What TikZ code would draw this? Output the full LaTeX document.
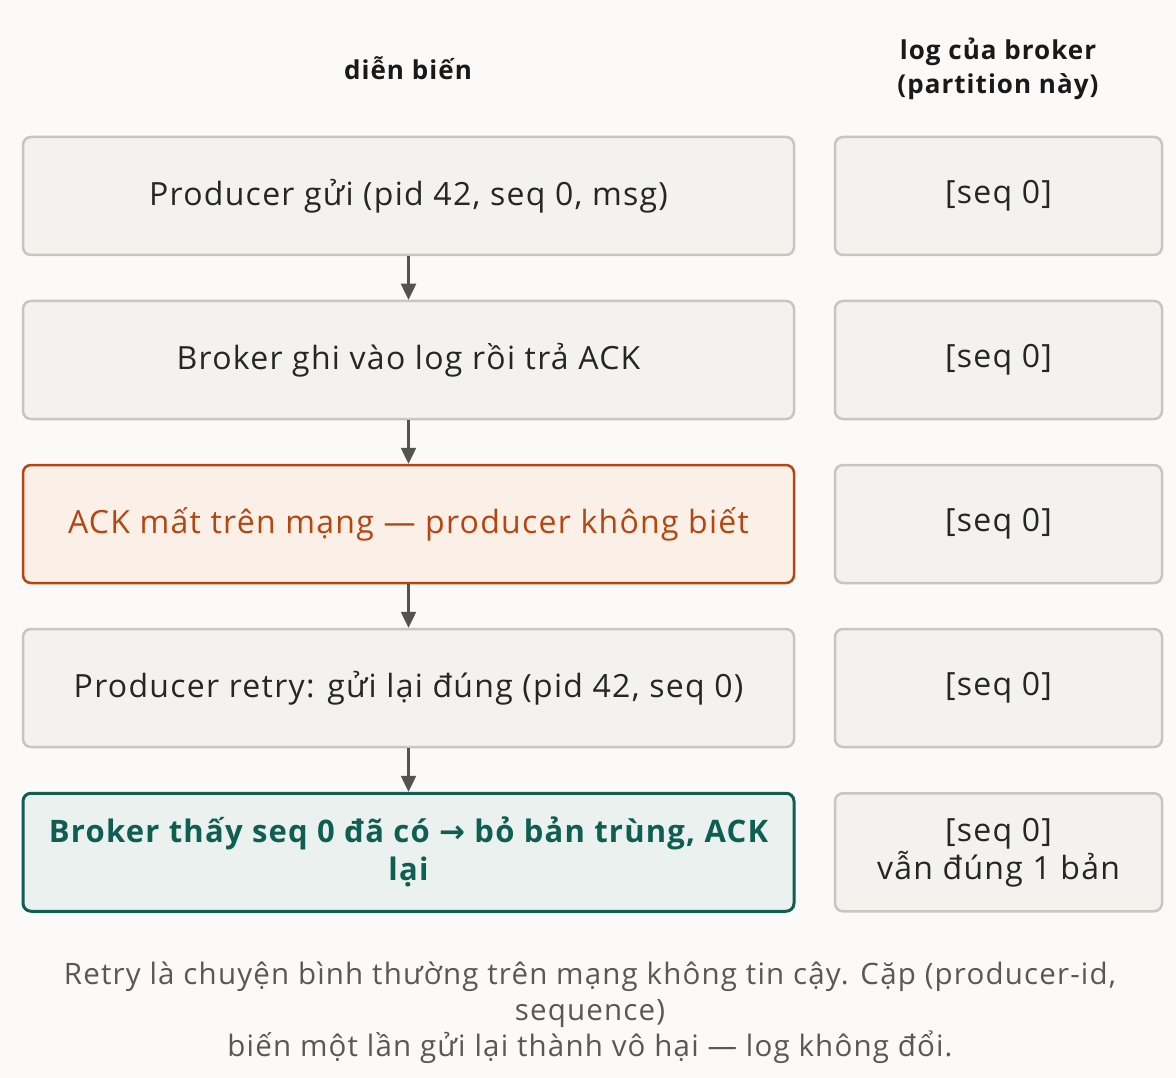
\documentclass[tikz,border=0pt]{standalone}
\usepackage{fontspec}
\setmainfont{Open Sans}[LetterSpace=4]
\newfontfamily\symfont{DejaVu Sans}
\usetikzlibrary{positioning}
\usetikzlibrary{arrows.meta}

\definecolor{bg}{HTML}{FBFAF8}
\definecolor{boxfill}{HTML}{F3F2EF}
\definecolor{boxline}{HTML}{C9C6BF}
\definecolor{warnfill}{HTML}{FAF0E8}
\definecolor{warnline}{HTML}{B5460F}
\definecolor{okfill}{HTML}{EAF1EE}
\definecolor{okline}{HTML}{0F5E52}
\definecolor{arrowc}{HTML}{55534E}
\definecolor{notec}{HTML}{5A5853}

\tikzset{
  evt/.style={draw=boxline,fill=boxfill,line width=2.5pt,rounded corners=8pt,
    minimum width=771pt,minimum height=118pt,align=center,inner sep=0pt,
    text=black!85,font=\fontsize{32}{38}\selectfont},
  logbox/.style={evt,minimum width=327pt},
  warn/.style={draw=warnline,fill=warnfill,text=warnline},
  ok/.style={draw=okline,fill=okfill,text=okline,line width=3pt,font=\bfseries\fontsize{31}{38}\selectfont},
  head/.style={align=center,font=\bfseries\fontsize{26}{34}\selectfont,text=black!90},
  flow/.style={draw=arrowc,line width=2.5pt,-{Triangle[length=16pt,width=15pt]}},
}

\begin{document}
\begin{tikzpicture}[x=1pt,y=-1pt]
\useasboundingbox[fill=bg] (0,0) rectangle (1176,1078);

% column titles
\node[head] (h1) at (408,68) {diễn biến};
\node[head] (h2) at (998,69) {log của broker\\(partition này)};

% left column: what happens
\node[evt] (e1) at (408.5,196) {Producer gửi (pid 42, seq 0, msg)};
\node[evt,below=43.5pt of e1] (e2) {Broker ghi vào log rồi trả ACK};
\node[evt,warn,below=43.5pt of e2] (e3) {ACK mất trên mạng — producer không biết};
\node[evt,below=43.5pt of e3] (e4) {Producer retry: gửi lại đúng (pid 42, seq 0)};
\node[evt,ok,below=43.5pt of e4] (e5) {Broker thấy seq 0 đã có {\symfont→} bỏ bản trùng, ACK\\lại};

% right column: broker log
\node[logbox] (l1) at (998.5,196) {[seq 0]};
\node[logbox] (l2) at (l1 |- e2) {[seq 0]};
\node[logbox] (l3) at (l1 |- e3) {[seq 0]};
\node[logbox] (l4) at (l1 |- e4) {[seq 0]};
\node[logbox] (l5) at (l1 |- e5) {[seq 0]\\vẫn đúng 1 bản};

\draw[flow] (e1) -- (e2);
\draw[flow] (e2) -- (e3);
\draw[flow] (e3) -- (e4);
\draw[flow] (e4) -- (e5);

\node[align=center,text=notec,font=\fontsize{29.5}{36}\selectfont] (note) at (590,1013)
  {Retry là chuyện bình thường trên mạng không tin cậy. Cặp (producer-id,\\sequence)\\biến một lần gửi lại thành vô hại — log không đổi.};
\end{tikzpicture}
\end{document}
